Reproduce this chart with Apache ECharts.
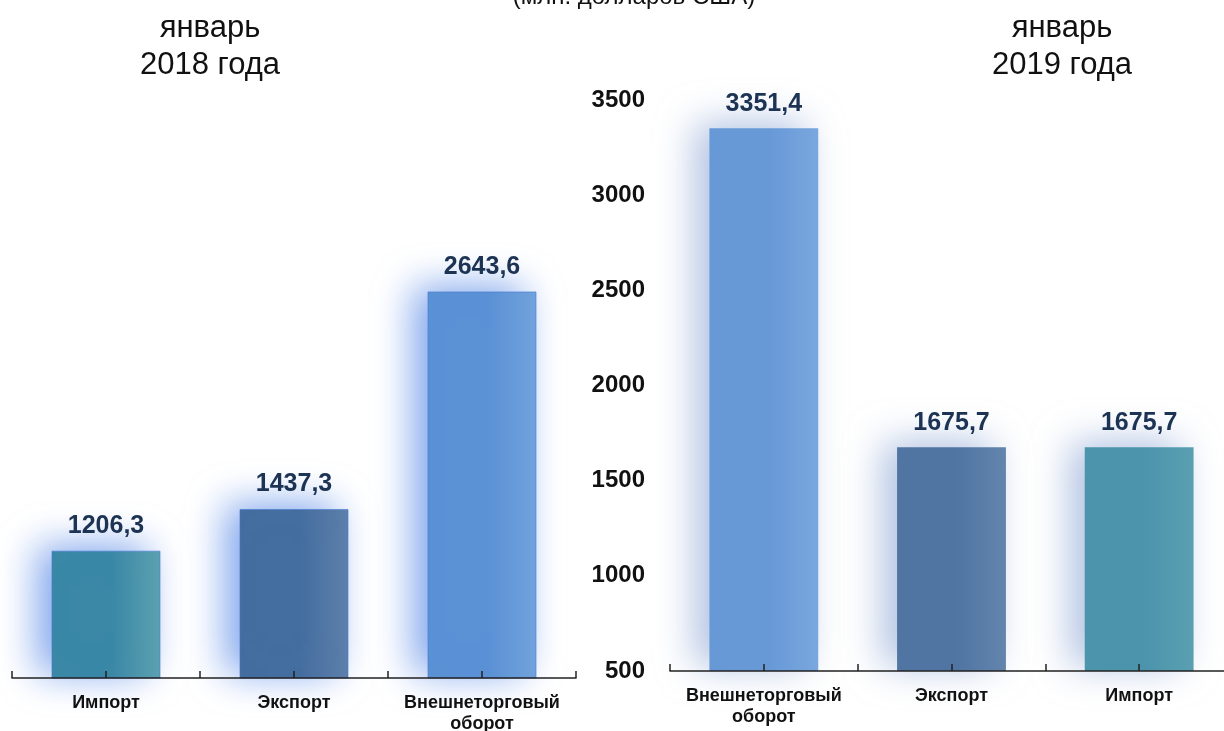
<!DOCTYPE html>
<html>
<head>
<meta charset="utf-8">
<script src="https://cdn.jsdelivr.net/npm/echarts@6/dist/echarts.min.js"></script>
<style>
html,body{margin:0;padding:0;background:#fff;}
#c{width:1224px;height:731px;}
</style>
</head>
<body>
<div id="c"></div>
<script>
var categories2018 = ['Импорт', 'Экспорт', 'Внешнеторговый\nоборот'];
var values2018 = [1206.3, 1437.3, 2643.6];
var categories2019 = ['Внешнеторговый\nоборот', 'Экспорт', 'Импорт'];
var values2019 = [3351.4, 1675.7, 1675.7];
var yMin = 500, yMax = 3500, yStep = 500;
var mainTitle = '(млн. долларов США)';
var title2018 = 'январь\n2018 года';
var title2019 = 'январь\n2019 года';

var colors2018 = {
  'Импорт': ['#3a88a6', '#5da2b1'],
  'Экспорт': ['#446e9f', '#5e80ab'],
  'Внешнеторговый\nоборот': ['#5b92d6', '#72a3dc']
};
var colors2019 = {
  'Импорт': ['#4b94ac', '#5ba0b1'],
  'Экспорт': ['#5075a2', '#6384ad'],
  'Внешнеторговый\nоборот': ['#6899d7', '#79a7de']
};
function grad(c) {
  return new echarts.graphic.LinearGradient(0, 0, 1, 0, [
    {offset: 0, color: c[0]}, {offset: 0.55, color: c[0]}, {offset: 1, color: c[1]}
  ]);
}
function barData(cats, vals, cmap) {
  return vals.map(function (v, i) {
    return {value: v, itemStyle: {color: grad(cmap[cats[i]])}};
  });
}
var FONT = 'Liberation Sans, Arial, sans-serif';
function fmt(p) { return String(p.value).replace('.', ','); }

var chart = echarts.init(document.getElementById('c'));
var axisLabelStyle = {color: '#111', fontWeight: 'bold', fontSize: 18, fontFamily: FONT, lineHeight: 21, margin: 15, interval: 0};
function xAxes(gridIndex, cats) {
  return [
    {type: 'category', gridIndex: gridIndex, data: cats, z: 5,
     axisLine: {lineStyle: {color: '#222', width: 1.5}},
     axisTick: {show: true, inside: true, interval: 0, length: 7, lineStyle: {color: '#222', width: 1.5}},
     axisLabel: axisLabelStyle},
    {type: 'category', gridIndex: gridIndex, data: cats, position: 'bottom', offset: 0, z: 5,
     axisLine: {show: false, onZero: false},
     axisTick: {show: true, inside: true, interval: 0, alignWithLabel: true, length: 7, lineStyle: {color: '#222', width: 1.5}},
     axisLabel: {show: true, interval: 0, color: 'rgba(0,0,0,0)', fontSize: 1}}
  ];
}
var shadow2018 = {shadowColor: 'rgba(85,135,230,0.75)', shadowBlur: 38, shadowOffsetX: -14, shadowOffsetY: -5};
var shadow2019 = {shadowColor: 'rgba(120,150,205,0.6)', shadowBlur: 38, shadowOffsetX: -14, shadowOffsetY: -5};
var labelStyle = {show: true, position: 'top', distance: 12, formatter: fmt, color: '#1c3354', fontWeight: 'bold', fontSize: 25, fontFamily: FONT};
var ghost = {type: 'line', silent: true, symbol: 'none', lineStyle: {opacity: 0}, tooltip: {show: false}};

chart.setOption({
  animation: false,
  title: [
    {text: mainTitle, left: 629, textAlign: 'center', top: -20, textStyle: {fontSize: 24, fontWeight: 'normal', color: '#111', fontFamily: FONT}},
    {text: title2018, left: 205, textAlign: 'center', top: 5, textStyle: {fontSize: 31, fontWeight: 'normal', color: '#111', fontFamily: FONT, lineHeight: 37}},
    {text: title2019, left: 1057, textAlign: 'center', top: 5, textStyle: {fontSize: 31, fontWeight: 'normal', color: '#111', fontFamily: FONT, lineHeight: 37}}
  ],
  grid: [
    {left: 12, top: 137, width: 564, height: 541, outerBoundsMode: 'none'},
    {left: 670, top: 100, width: 563, height: 571, outerBoundsMode: 'none'}
  ],
  xAxis: xAxes(0, categories2018).concat(xAxes(1, categories2019)),
  yAxis: [
    {type: 'value', gridIndex: 0, min: yMin, max: yMax, interval: yStep, show: false, splitLine: {show: false}},
    {type: 'value', gridIndex: 1, min: yMin, max: yMax, interval: yStep,
     axisLine: {show: false}, axisTick: {show: false}, splitLine: {show: false},
     axisLabel: {color: '#111', fontWeight: 'bold', fontSize: 24, fontFamily: FONT, margin: 25,
                 formatter: function (v) { return String(v); }}}
  ],
  series: [
    {type: 'bar', xAxisIndex: 0, yAxisIndex: 0, barWidth: '58%', data: barData(categories2018, values2018, colors2018),
     itemStyle: Object.assign({borderColor: 'rgba(70,120,210,0.6)', borderWidth: 1}, shadow2018), label: labelStyle},
    {type: 'bar', xAxisIndex: 2, yAxisIndex: 1, barWidth: '58%', data: barData(categories2019, values2019, colors2019),
     itemStyle: Object.assign({}, shadow2019), label: labelStyle},
    Object.assign({xAxisIndex: 1, yAxisIndex: 0, data: values2018}, ghost),
    Object.assign({xAxisIndex: 3, yAxisIndex: 1, data: values2019}, ghost)
  ]
});
</script>
</body>
</html>
